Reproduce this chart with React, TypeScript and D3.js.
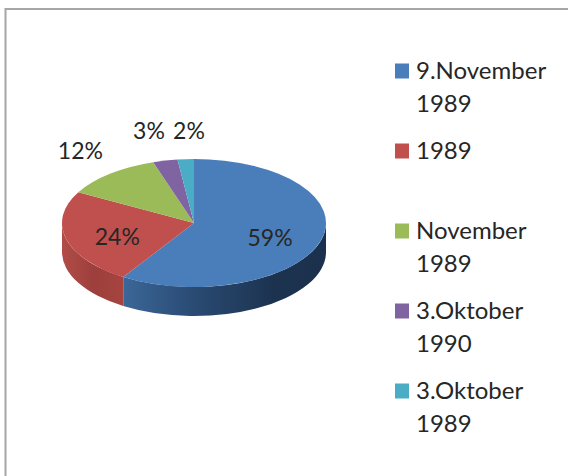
import React, { useEffect, useRef } from 'react';
import * as d3 from 'd3';

// data
const categories = ['9.November 1989', '1989', 'November 1989', '3.Oktober 1990', '3.Oktober 1989'];
const legendLines = [['9.November', '1989'], ['1989'], ['November', '1989'], ['3.Oktober', '1990'], ['3.Oktober', '1989']];
const values = [59, 24, 12, 3, 2];
const topColors = ['#4a7ebb', '#c0504d', '#9bbb59', '#8064a2', '#4bacc6'];
const sideColors = [
  ['#3d6a9c', '#2a4b73', '#1c3350', '#1b304c'],
  ['#b24c48', '#9d3f3c', '#a5433f', '#a8443f'],
  ['#7d9848', '#6e8840', '#6e8840', '#6e8840'],
  ['#684f86', '#5a4575', '#5a4575', '#5a4575'],
  ['#3a8ea5', '#327c90', '#327c90', '#327c90'],
];

const App: React.FC = () => {
  const svgRef = useRef<SVGSVGElement | null>(null);

  useEffect(() => {
    const svg = d3.select(svgRef.current);
    svg.selectAll('*').remove();

    const width = 568;
    const height = 476;
    const cx = 194;
    const cy = 223;
    const rx = 132;
    const ry = 64;
    const depth = 29;
    const font = 'Lato, "Open Sans", sans-serif';

    // frame
    svg.append('rect')
      .attr('x', 5.5).attr('y', 9).attr('width', width).attr('height', height)
      .attr('fill', '#fff').attr('stroke', '#a6a6a6').attr('stroke-width', 2);

    const pie = d3.pie<number>().sort(null).value((d) => d);
    const arcs = pie(values);

    const pt = (a: number, dy = 0): [number, number] => [cx + rx * Math.sin(a), cy - ry * Math.cos(a) + dy];

    const defs = svg.append('defs');
    sideColors.forEach((cols, i) => {
      const g = defs.append('linearGradient')
        .attr('id', `side${i}`)
        .attr('gradientUnits', 'userSpaceOnUse')
        .attr('x1', cx - rx).attr('x2', cx + rx).attr('y1', 0).attr('y2', 0);
      const stops = i === 0 ? [0.2, 0.5, 0.8, 1] : [0, 0.12, 0.22, 0.3];
      cols.forEach((c, j) => g.append('stop').attr('offset', stops[j]).attr('stop-color', c));
    });

    // front walls (only the part facing the viewer)
    const sides = svg.append('g');
    arcs.forEach((d, i) => {
      const s0 = Math.max(d.startAngle, Math.PI / 2);
      const s1 = Math.min(d.endAngle, (3 * Math.PI) / 2);
      if (s1 <= s0) return;
      const [x0, y0] = pt(s0);
      const [x1, y1] = pt(s1);
      const path = `M${x0},${y0} A${rx},${ry} 0 0 1 ${x1},${y1} L${x1},${y1 + depth} A${rx},${ry} 0 0 0 ${x0},${y0 + depth} Z`;
      sides.append('path').attr('d', path).attr('fill', `url(#side${i})`);
    });

    // top face
    const tops = svg.append('g');
    arcs.forEach((d, i) => {
      const [x0, y0] = pt(d.startAngle);
      const [x1, y1] = pt(d.endAngle);
      const large = d.endAngle - d.startAngle > Math.PI ? 1 : 0;
      const path = `M${cx},${cy} L${x0},${y0} A${rx},${ry} 0 ${large} 1 ${x1},${y1} Z`;
      tops.append('path').attr('d', path).attr('fill', topColors[i]);
    });

    // data labels: big slices inside, small ones outside
    const total = d3.sum(values);
    const fmt = (v: number) => `${Math.round((v / total) * 100)}%`;
    type Lab = { text: string; x: number; y: number };
    const inside: Lab[] = [];
    const outside: Lab[] = [];
    arcs.forEach((d) => {
      const mid = (d.startAngle + d.endAngle) / 2;
      if (d.value / total >= 0.2) {
        inside.push({ text: fmt(d.value), x: cx + 0.6 * rx * Math.sin(mid), y: cy - 0.6 * ry * Math.cos(mid) + (Math.cos(mid) < 0 ? 4 : 0) });
      } else {
        outside.push({ text: fmt(d.value), x: cx + 1.35 * rx * Math.sin(mid), y: cy - 1.47 * ry * Math.cos(mid) });
      }
    });
    // push apart labels sharing a row
    for (let k = 0; k < 3; k++) {
      outside.sort((a, b) => a.x - b.x);
      for (let i = 1; i < outside.length; i++) {
        const a = outside[i - 1];
        const b = outside[i];
        if (Math.abs(a.y - b.y) < 20 && b.x - a.x < 40) {
          const shift = (40 - (b.x - a.x)) / 2;
          a.x -= shift;
          b.x += shift;
          const y = Math.max(a.y, b.y);
          a.y = y;
          b.y = y;
        }
      }
    }

    svg.append('g').selectAll('text')
      .data([...inside, ...outside])
      .join('text')
      .attr('x', (d) => d.x)
      .attr('y', (d) => d.y)
      .attr('dy', '0.35em')
      .attr('text-anchor', 'middle')
      .attr('font-family', font)
      .attr('font-size', 23)
      .attr('fill', '#262626')
      .text((d) => d.text);

    // legend
    const legendY = d3.scaleBand<string>().domain(categories).range([78.5, 478.5]);
    const legend = svg.append('g').selectAll('g')
      .data(categories)
      .join('g')
      .attr('transform', (d) => `translate(395,${legendY(d)})`);
    legend.append('rect')
      .attr('x', 0).attr('y', -15).attr('width', 14).attr('height', 15)
      .attr('fill', (_, i) => topColors[i]);
    legend.append('text')
      .attr('font-family', font)
      .attr('font-size', 24)
      .attr('fill', '#262626')
      .selectAll('tspan')
      .data((_, i) => legendLines[i])
      .join('tspan')
      .attr('x', 21)
      .attr('y', (_, j) => j * 33)
      .text((t) => t);
  }, []);

  return (
    <svg ref={svgRef} width="568" height="476" style={{ position: 'absolute', left: 0, top: 0 }} />
  );
};

export default App;
